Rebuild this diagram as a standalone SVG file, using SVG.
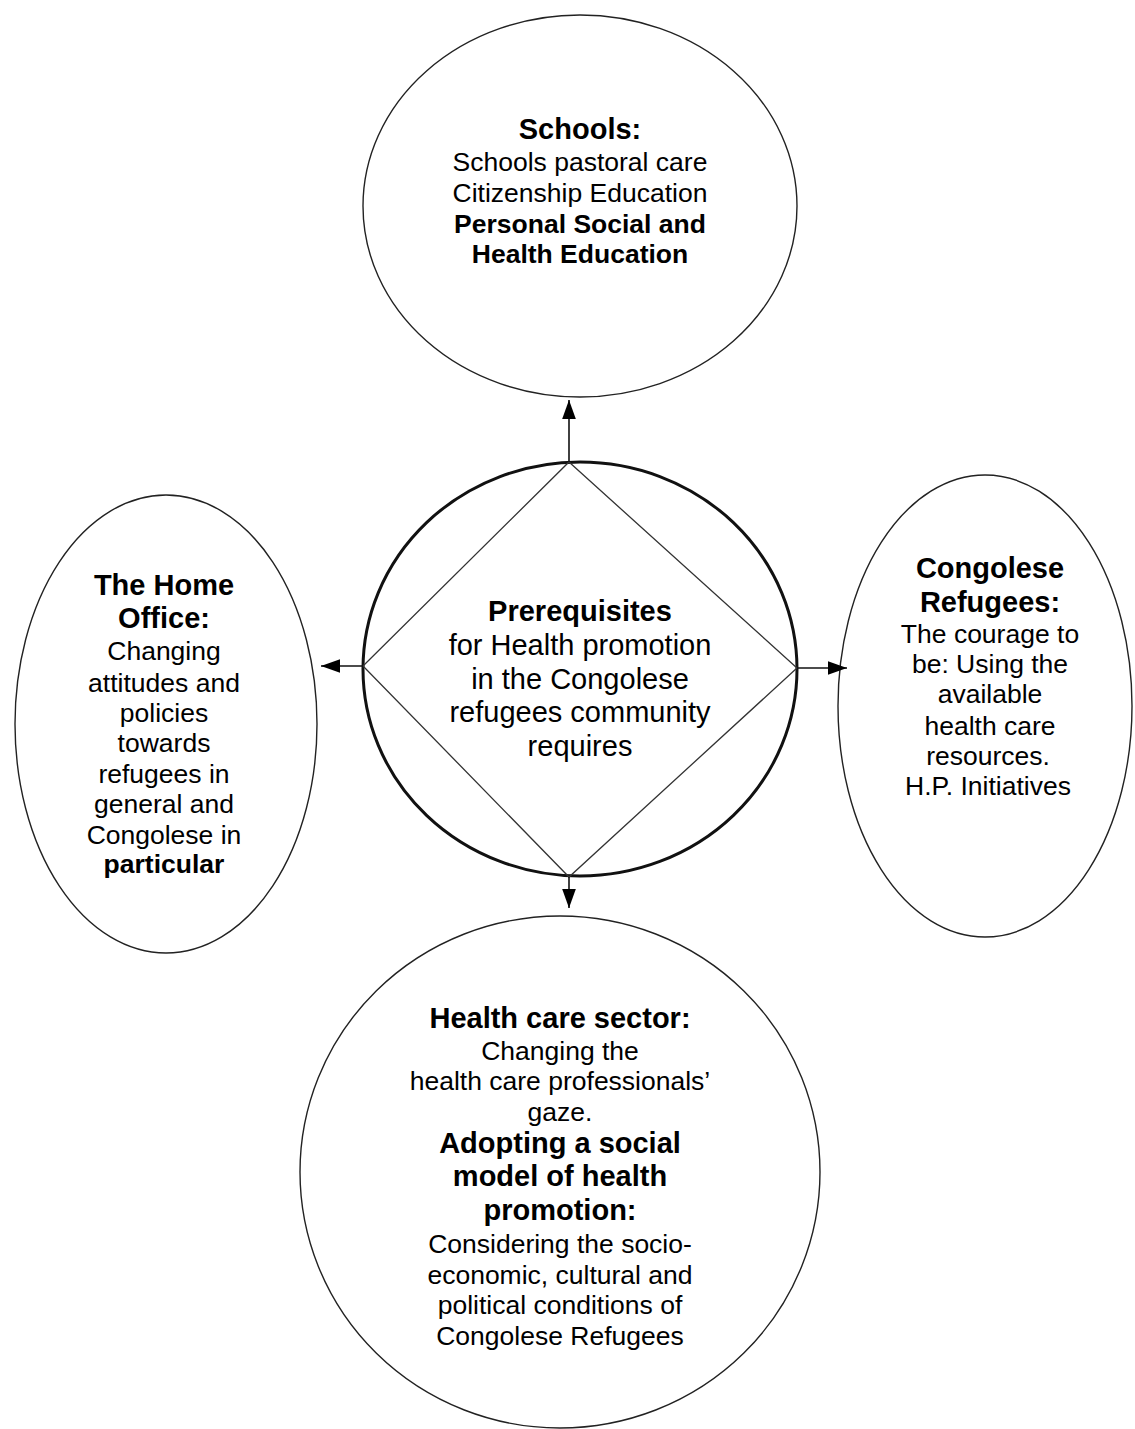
<svg xmlns="http://www.w3.org/2000/svg" width="1135" height="1429" viewBox="0 0 1135 1429">
<style>
.node{fill:none;stroke:#222;stroke-width:1.4}
.hub{fill:none;stroke:#111;stroke-width:3}
.dia{fill:none;stroke:#333;stroke-width:1.3}
.conn{stroke:#111;stroke-width:1.6;fill:none}
text{font-family:"Liberation Sans",Arial,sans-serif;fill:#000;text-anchor:middle;font-size:26.5px}
.t{font-weight:bold;font-size:29px}
.b{font-weight:bold}
.c{font-size:29px}
</style>
<defs>
<marker id="ah" viewBox="0 0 10 10" refX="10" refY="5" markerWidth="12" markerHeight="12" markerUnits="strokeWidth" orient="auto">
<path d="M0,1.4 L10,5 L0,8.6 Z" fill="#000"/>
</marker>
</defs>
<rect width="1135" height="1429" fill="#fff"/>
<g id="hub">
<ellipse class="hub" cx="580" cy="669" rx="217" ry="207"/>
<polygon class="dia" points="569,462 797,668 569,877 363,666"/>
<text class="c" font-weight="bold" x="580" y="621">Prerequisites</text>
<text class="c" x="580" y="655">for Health promotion</text>
<text class="c" x="580" y="689">in the Congolese</text>
<text class="c" x="580" y="722">refugees community</text>
<text class="c" x="580" y="756">requires</text>
</g>
<g id="schools">
<ellipse class="node" cx="580" cy="206" rx="217" ry="191"/>
<text class="t" x="580" y="139">Schools:</text>
<text x="580" y="171">Schools pastoral care</text>
<text x="580" y="202">Citizenship Education</text>
<text class="b" x="580" y="233">Personal Social and</text>
<text class="b" x="580" y="263">Health Education</text>
</g>
<g id="homeoffice">
<ellipse class="node" cx="166" cy="724" rx="151" ry="229"/>
<text class="t" x="164" y="595">The Home</text>
<text class="t" x="164" y="628">Office:</text>
<text x="164" y="660">Changing</text>
<text x="164" y="692">attitudes and</text>
<text x="164" y="722">policies</text>
<text x="164" y="752">towards</text>
<text x="164" y="783">refugees in</text>
<text x="164" y="813">general and</text>
<text x="164" y="844">Congolese in</text>
<text class="b" x="164" y="873">particular</text>
</g>
<g id="refugees">
<ellipse class="node" cx="985" cy="706" rx="147" ry="231"/>
<text class="t" x="990" y="578">Congolese</text>
<text class="t" x="990" y="612">Refugees:</text>
<text x="990" y="643">The courage to</text>
<text x="990" y="673">be: Using the</text>
<text x="990" y="703">available</text>
<text x="990" y="735">health care</text>
<text x="988" y="765">resources.</text>
<text x="988" y="795">H.P. Initiatives</text>
</g>
<g id="healthcare">
<ellipse class="node" cx="560" cy="1172" rx="260" ry="256"/>
<text class="t" x="560" y="1028">Health care sector:</text>
<text x="560" y="1060">Changing the</text>
<text x="560" y="1090">health care professionals’</text>
<text x="560" y="1121">gaze.</text>
<text class="t" x="560" y="1153">Adopting a social</text>
<text class="t" x="560" y="1186">model of health</text>
<text class="t" x="560" y="1220">promotion:</text>
<text x="560" y="1253">Considering the socio-</text>
<text x="560" y="1284">economic, cultural and</text>
<text x="560" y="1314">political conditions of</text>
<text x="560" y="1345">Congolese Refugees</text>
</g>
<g id="connectors">
<line class="conn" x1="569" y1="462" x2="569" y2="400" marker-end="url(#ah)"/>
<line class="conn" x1="363" y1="666" x2="321" y2="666" marker-end="url(#ah)"/>
<line class="conn" x1="797" y1="668" x2="847" y2="668" marker-end="url(#ah)"/>
<line class="conn" x1="569" y1="877" x2="569" y2="908" marker-end="url(#ah)"/>
</g>
</svg>
